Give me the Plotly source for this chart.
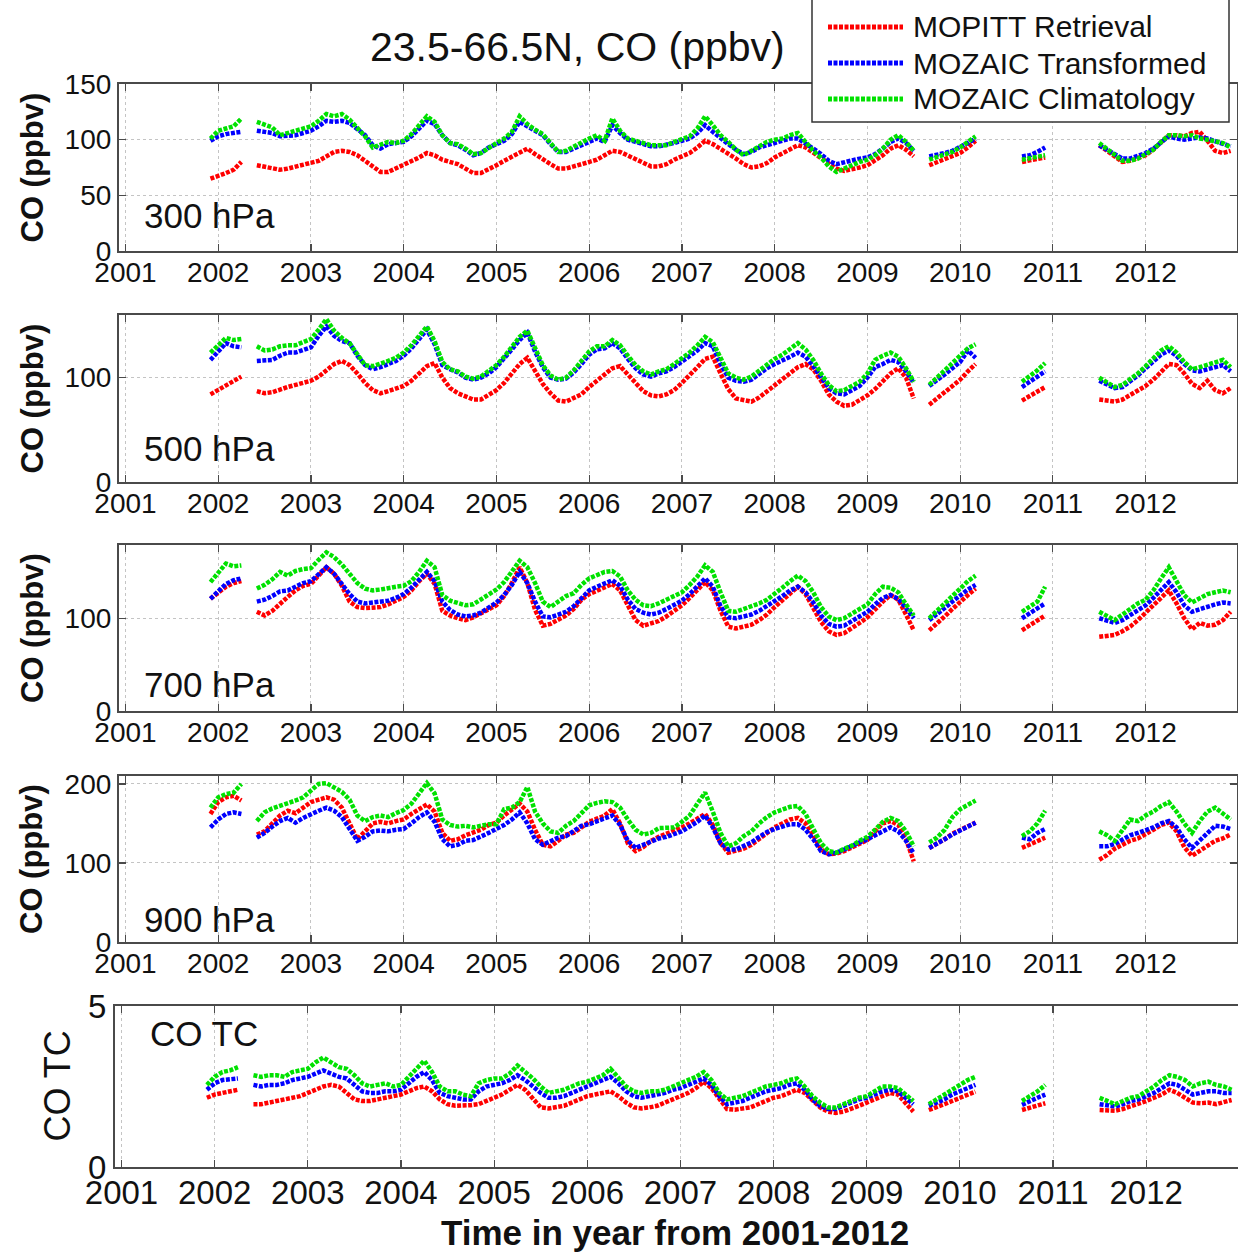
import plotly.graph_objects as go

# ---------------- time segments (monthly, with data gaps) ----------------
SEG_BOUNDS = [((2001, 12), (2002, 4)), ((2002, 6), (2009, 7)), ((2009, 9), (2010, 3)),
              ((2010, 9), (2010, 12)), ((2011, 7), (2012, 12))]

YEAR_TICKS = [2001, 2002, 2003, 2004, 2005, 2006, 2007, 2008, 2009, 2010, 2011, 2012]

SERIES_NAMES = ["MOPITT Retrieval", "MOZAIC Transformed", "MOZAIC Climatology"]
SERIES_COLORS = ["rgb(255,0,0)", "rgb(0,0,255)", "rgb(0,225,0)"]

# ---------------- 300 hPa ----------------
p300_red = [
    [65, 67, 70, 73, 80],
    [77, 76, 75, 73, 74, 76, 78,
     79, 81, 85, 89, 90, 89, 86, 81, 75, 71, 71, 74,
     78, 81, 84, 88, 86, 82, 80, 78, 74, 70, 70, 73,
     77, 81, 85, 89, 92, 87, 82, 78, 74, 74, 76, 78,
     80, 82, 86, 90, 89, 86, 83, 80, 76, 76, 78, 82,
     85, 88, 93, 99, 96, 92, 88, 83, 78, 75, 76, 79,
     84, 88, 92, 95, 93, 88, 84, 79, 74, 72, 73, 75,
     77, 81, 86, 92, 95, 91, 85],
    [77, 80, 82, 85, 88, 93, 99],
    [80, 81, 82, 84],
    [95, 90, 84, 80, 81, 83, 86, 91, 98, 104, 104, 103, 106, 107, 99, 90, 88, 90],
]
p300_blue = [
    [99, 103, 105, 106, 107],
    [108, 107, 106, 103, 103, 104, 106,
     108, 112, 117, 116, 117, 115, 110, 104, 95, 92, 96, 97,
     98, 103, 110, 117, 114, 104, 97, 95, 91, 86, 88, 93,
     96, 99, 105, 116, 112, 108, 104, 96, 89, 89, 92, 96,
     98, 101, 98, 113, 106, 100, 98, 96, 94, 94, 95, 97,
     99, 101, 106, 113, 107, 101, 96, 91, 87, 89, 93, 95,
     97, 99, 101, 101, 97, 92, 87, 81, 78, 80, 81, 83,
     84, 87, 92, 98, 101, 97, 90],
    [85, 86, 88, 90, 93, 97, 101],
    [85, 86, 89, 93],
    [95, 91, 86, 83, 83, 85, 88, 92, 98, 103, 101, 100, 101, 102, 101, 99, 96, 94],
]
p300_green = [
    [101, 108, 110, 112, 119],
    [116, 113, 111, 104, 106, 108, 109,
     112, 117, 123, 121, 123, 118, 110, 103, 93, 95, 98, 97,
     99, 105, 113, 121, 116, 104, 97, 96, 92, 87, 88, 93,
     97, 101, 107, 121, 114, 109, 105, 97, 89, 90, 94, 98,
     101, 104, 99, 119, 108, 101, 99, 97, 95, 95, 95, 98,
     100, 103, 110, 121, 113, 104, 98, 91, 86, 90, 95, 98,
     100, 101, 104, 106, 98, 90, 84, 76, 71, 74, 78, 80,
     82, 86, 92, 100, 104, 98, 90],
    [82, 84, 86, 89, 93, 98, 103],
    [82, 83, 84, 86],
    [97, 92, 86, 81, 81, 83, 87, 91, 98, 104, 104, 103, 104, 101, 100, 99, 97, 93],
]

# ---------------- 500 hPa ----------------
p500_red = [
    [84, 88, 93, 97, 101],
    [87, 85, 86, 89, 91, 93, 95,
     97, 101, 107, 113, 116, 112, 104, 95, 88, 85, 87, 89,
     92, 97, 104, 111, 114, 100, 90, 85, 82, 79, 79, 83,
     88, 95, 104, 113, 119, 106, 94, 85, 78, 77, 80, 84,
     91, 97, 103, 109, 111, 103, 95, 87, 83, 82, 84, 88,
     95, 102, 110, 118, 120, 104, 89, 80, 78, 77, 81, 87,
     93, 98, 104, 110, 113, 108, 97, 84, 77, 73, 74, 78,
     83, 89, 96, 104, 109, 100, 80],
    [74, 80, 86, 92, 98, 106, 113],
    [78, 82, 87, 91],
    [79, 78, 77, 79, 83, 87, 92, 98, 106, 113, 112, 104, 94, 90, 97, 88, 85, 90],
]
p500_blue = [
    [117, 125, 133, 130, 129],
    [116, 116, 117, 121, 124, 124, 126,
     129, 140, 149, 140, 135, 133, 121, 112, 108, 110, 113, 116,
     121, 128, 137, 146, 132, 112, 108, 105, 100, 98, 100, 104,
     110, 118, 127, 136, 143, 125, 110, 100, 98, 99, 105, 113,
     122, 127, 128, 133, 128, 118, 109, 103, 101, 104, 106, 110,
     115, 121, 126, 133, 130, 113, 100, 97, 96, 98, 104, 109,
     113, 116, 120, 124, 120, 111, 100, 90, 85, 84, 88, 92,
     100, 110, 113, 117, 115, 106, 95],
    [92, 97, 103, 109, 115, 126, 119],
    [91, 96, 101, 106],
    [97, 93, 90, 91, 96, 102, 109, 116, 122, 126, 121, 113, 107, 106, 108, 109, 112, 106],
]
p500_green = [
    [124, 131, 138, 136, 137],
    [130, 126, 127, 130, 131, 131, 134,
     137, 146, 156, 145, 138, 133, 122, 112, 111, 113, 116, 119,
     124, 131, 140, 149, 135, 115, 108, 106, 101, 99, 101, 106,
     112, 120, 129, 139, 145, 128, 112, 102, 98, 100, 107, 116,
     125, 130, 130, 136, 131, 121, 112, 106, 103, 106, 108, 113,
     118, 124, 131, 139, 134, 118, 104, 100, 98, 101, 107, 113,
     118, 122, 127, 133, 127, 117, 104, 93, 87, 88, 92, 96,
     104, 117, 121, 124, 120, 109, 96],
    [93, 100, 108, 115, 122, 128, 132],
    [96, 101, 107, 114],
    [100, 96, 91, 93, 98, 104, 111, 118, 126, 130, 124, 115, 108, 110, 112, 114, 117, 110],
]

# ---------------- 700 hPa ----------------
p700_red = [
    [121, 127, 134, 138, 140],
    [107, 103, 108, 116, 123, 130, 135,
     137, 146, 155, 148, 135, 118, 112, 111, 111, 112, 115, 119,
     123, 130, 140, 148, 137, 108, 103, 100, 98, 101, 105, 110,
     114, 124, 138, 155, 138, 109, 92, 94, 99, 103, 110, 120,
     126, 130, 134, 137, 130, 113, 98, 92, 94, 97, 102, 108,
     114, 122, 131, 139, 130, 108, 91, 89, 91, 93, 98, 104,
     112, 119, 127, 134, 126, 112, 96, 86, 82, 84, 89, 95,
     101, 110, 118, 125, 120, 104, 87],
    [87, 94, 102, 110, 118, 125, 132],
    [87, 92, 97, 103],
    [80, 81, 82, 86, 91, 98, 106, 114, 123, 130, 116, 100, 88, 95, 92, 93, 98, 107],
]
p700_blue = [
    [121, 129, 137, 141, 143],
    [118, 120, 124, 129, 130, 134, 138,
     140, 147, 155, 148, 137, 126, 118, 116, 117, 118, 119, 122,
     126, 133, 142, 150, 140, 118, 109, 104, 102, 103, 106, 112,
     117, 125, 136, 150, 138, 118, 102, 101, 104, 107, 113, 122,
     130, 134, 137, 141, 135, 120, 110, 106, 104, 106, 110, 114,
     119, 126, 134, 143, 134, 113, 101, 100, 102, 104, 108, 113,
     118, 124, 130, 134, 128, 117, 103, 94, 91, 92, 97, 102,
     107, 115, 122, 125, 121, 111, 100],
    [98, 104, 111, 118, 125, 131, 136],
    [100, 105, 110, 116],
    [100, 97, 95, 98, 103, 108, 114, 122, 131, 139, 128, 114, 107, 110, 113, 115, 117, 116],
]
p700_green = [
    [139, 150, 159, 156, 157],
    [132, 136, 142, 150, 146, 151, 153,
     154, 163, 171, 166, 158, 148, 138, 132, 130, 131, 133, 134,
     135, 140, 150, 162, 155, 125, 119, 116, 114, 115, 120, 126,
     131, 139, 150, 162, 155, 138, 118, 112, 118, 124, 127, 136,
     143, 147, 150, 151, 145, 130, 120, 114, 113, 116, 120, 124,
     128, 136, 145, 157, 150, 128, 108, 107, 110, 112, 116, 120,
     126, 133, 140, 146, 140, 128, 112, 102, 98, 100, 105, 110,
     115, 126, 134, 133, 128, 115, 103],
    [100, 108, 117, 125, 133, 140, 146],
    [107, 113, 118, 134],
    [107, 102, 98, 104, 110, 116, 120, 130, 143, 155, 140, 125, 117, 121, 126, 128, 130, 128],
]

# ---------------- 900 hPa ----------------
p900_red = [
    [162, 177, 183, 185, 179],
    [136, 140, 150, 160, 166, 163, 170,
     177, 180, 183, 180, 170, 150, 130, 140, 150, 152, 150, 153,
     155, 162, 168, 174, 165, 138, 128, 130, 135, 138, 142, 148,
     151, 160, 168, 175, 165, 142, 123, 121, 128, 136, 138, 145,
     152, 156, 160, 168, 150, 125, 115, 120, 128, 133, 137, 140,
     145, 150, 156, 162, 148, 125, 113, 115, 118, 123, 130, 137,
     145, 150, 155, 157, 150, 135, 117, 111, 112, 115, 120, 125,
     129, 140, 150, 153, 148, 130, 102],
    [119, 124, 130, 137, 142, 147, 151],
    [119, 123, 127, 132],
    [104, 110, 118, 123, 128, 131, 136, 142, 148, 151, 140, 120, 109, 115, 122, 128, 131, 136],
]
p900_blue = [
    [145, 155, 162, 164, 162],
    [132, 138, 146, 153, 157, 151, 157,
     162, 166, 170, 166, 158, 143, 128, 133, 140, 141, 140, 142,
     143, 150, 158, 164, 152, 130, 121, 123, 128, 129, 133, 138,
     143, 148, 155, 164, 150, 130, 123, 127, 132, 134, 140, 147,
     149, 153, 157, 160, 148, 128, 119, 123, 128, 131, 133, 136,
     140, 146, 152, 160, 145, 125, 117, 117, 121, 126, 133, 139,
     143, 146, 149, 149, 142, 130, 115, 111, 113, 117, 122, 126,
     130, 135, 141, 145, 140, 128, 112],
    [119, 124, 130, 136, 141, 146, 151],
    [132, 130, 138, 143],
    [121, 121, 124, 130, 135, 138, 141, 145, 150, 153, 145, 130, 119, 128, 138, 147, 146, 143],
]
p900_green = [
    [170, 183, 187, 189, 200],
    [153, 164, 169, 172, 176, 179, 183,
     192, 200, 201, 195, 190, 180, 160, 153, 158, 160, 158, 163,
     167, 175, 188, 201, 188, 155, 148, 146, 147, 145, 147, 149,
     149, 168, 170, 177, 196, 165, 150, 140, 138, 147, 153, 164,
     173, 176, 178, 177, 170, 155, 142, 136, 138, 144, 145, 145,
     152, 160, 175, 189, 165, 138, 121, 125, 134, 140, 150, 158,
     164, 167, 171, 172, 162, 143, 125, 115, 113, 118, 122, 128,
     133, 142, 152, 157, 153, 140, 121],
    [126, 132, 142, 158, 168, 174, 179],
    [134, 140, 150, 166],
    [140, 135, 128, 142, 155, 153, 160, 165, 172, 177, 165, 150, 138, 153, 165, 170, 163, 155],
]

# ---------------- CO total column ----------------
tc_red = [
    [2.15, 2.25, 2.3, 2.35, 2.4],
    [1.95, 1.95, 2.0, 2.05, 2.1, 2.15, 2.2,
     2.3, 2.4, 2.5, 2.55, 2.5, 2.3, 2.1, 2.05, 2.05, 2.1, 2.15, 2.2,
     2.25, 2.35, 2.45, 2.5, 2.35, 2.1, 1.95, 1.9, 1.9, 1.92, 1.95, 2.05,
     2.15, 2.25, 2.4, 2.55, 2.4, 2.1, 1.85, 1.82, 1.85, 1.9, 2.0, 2.1,
     2.2, 2.25, 2.3, 2.35, 2.2, 2.0, 1.85, 1.82, 1.85, 1.9, 2.0, 2.1,
     2.2, 2.3, 2.45, 2.65, 2.45, 2.1, 1.8, 1.78, 1.8, 1.85, 1.95, 2.05,
     2.15, 2.2, 2.3, 2.4, 2.3, 2.05, 1.85, 1.72, 1.68, 1.72, 1.8, 1.9,
     2.0, 2.1, 2.2, 2.3, 2.25, 2.0, 1.72],
    [1.77, 1.85, 1.95, 2.05, 2.15, 2.25, 2.34],
    [1.77, 1.83, 1.9, 1.98],
    [1.77, 1.75, 1.75, 1.8, 1.88, 1.95, 2.05, 2.15, 2.25, 2.4, 2.3, 2.15, 2.0, 1.98, 2.0, 1.95, 2.0, 2.08],
]
tc_blue = [
    [2.4, 2.6, 2.7, 2.72, 2.75],
    [2.55, 2.5, 2.55, 2.55, 2.6, 2.7, 2.75,
     2.8, 2.9, 3.0, 2.9, 2.8, 2.75, 2.55, 2.35, 2.3, 2.3, 2.35, 2.35,
     2.4, 2.6, 2.8, 2.95, 2.7, 2.3, 2.2, 2.15, 2.1, 2.1, 2.35, 2.5,
     2.55, 2.6, 2.7, 2.85, 2.7, 2.5, 2.3, 2.15, 2.15, 2.2, 2.3, 2.4,
     2.5, 2.6, 2.7, 2.8, 2.6, 2.35, 2.2, 2.15, 2.2, 2.25, 2.3, 2.4,
     2.45, 2.55, 2.65, 2.75, 2.55, 2.2, 1.95, 2.0, 2.05, 2.15, 2.25, 2.35,
     2.4, 2.45, 2.55, 2.6, 2.4, 2.1, 1.9, 1.8, 1.8, 1.9, 2.0, 2.1,
     2.15, 2.25, 2.35, 2.4, 2.35, 2.15, 1.95],
    [1.9, 2.0, 2.1, 2.25, 2.35, 2.45, 2.55],
    [1.93, 2.05, 2.15, 2.25],
    [1.95, 1.9, 1.88, 1.95, 2.05, 2.1, 2.2, 2.3, 2.45, 2.6, 2.55, 2.4, 2.25, 2.3, 2.35, 2.35, 2.3, 2.3],
]
tc_green = [
    [2.55, 2.8, 2.95, 3.0, 3.1],
    [2.85, 2.8, 2.85, 2.85, 2.8, 2.95, 3.0,
     3.05, 3.25, 3.4, 3.25, 3.1, 3.05, 2.85, 2.6, 2.5, 2.55, 2.6, 2.5,
     2.55, 2.8, 3.05, 3.3, 2.95, 2.5, 2.35, 2.35, 2.25, 2.2, 2.6, 2.7,
     2.75, 2.75, 2.9, 3.15, 2.95, 2.75, 2.5, 2.3, 2.35, 2.4, 2.5, 2.6,
     2.65, 2.75, 2.85, 3.05, 2.75, 2.5, 2.35, 2.3, 2.35, 2.35, 2.4, 2.5,
     2.6, 2.7, 2.8, 2.95, 2.7, 2.3, 2.1, 2.15, 2.2, 2.3, 2.4, 2.5,
     2.55, 2.6, 2.7, 2.75, 2.5, 2.2, 2.0, 1.85, 1.85, 1.95, 2.05, 2.15,
     2.2, 2.35, 2.5, 2.5, 2.45, 2.25, 2.05],
    [1.95, 2.1, 2.25, 2.4, 2.55, 2.7, 2.8],
    [2.05, 2.2, 2.35, 2.55],
    [2.15, 2.05, 1.95, 2.05, 2.15, 2.2, 2.35, 2.5, 2.7, 2.85, 2.8, 2.7, 2.5, 2.6, 2.65, 2.55, 2.5, 2.4],
]

PANEL_LABELS = ["300 hPa", "500 hPa", "700 hPa", "900 hPa", "CO TC"]
PANEL_SERIES = [
    (p300_red, p300_blue, p300_green),
    (p500_red, p500_blue, p500_green),
    (p700_red, p700_blue, p700_green),
    (p900_red, p900_blue, p900_green),
    (tc_red, tc_blue, tc_green),
]
Y_RANGES = [[0, 150], [0, 160], [0, 179], [0, 210], [0, 5]]
Y_TICKS = [[0, 50, 100, 150], [0, 100], [0, 100], [0, 100, 200], [0, 5]]
Y_TITLES = ["CO (ppbv)", "CO (ppbv)", "CO (ppbv)", "CO (ppbv)", "CO TC"]


# ---------------- helpers ----------------
def month_list(start, end):
    (y0, m0), (y1, m1) = start, end
    out = []
    y, m = y0, m0
    while (y, m) <= (y1, m1):
        out.append(y + (m - 1) / 12.0)
        m += 1
        if m > 12:
            m, y = 1, y + 1
    return out


SEG_X = [month_list(s, e) for s, e in SEG_BOUNDS]


def build_xy(segments):
    xs, ys = [], []
    for k, (sx, sv) in enumerate(zip(SEG_X, segments)):
        if k > 0:
            xs.append(None)
            ys.append(None)
        xs.extend(sx)
        ys.extend(sv)
    return xs, ys


W, H = 1238, 1252


def fx(px):
    return px / W


def fy(py):
    return 1 - py / H


# pixel boxes of each panel: (left, right, top, bottom)
BOXES = [(118.5, 1236.5, 84, 251), (118.5, 1236.5, 315, 482), (118.5, 1236.5, 545, 711),
         (118.5, 1236.5, 776, 942), (114.5, 1237.5, 1006, 1167)]

FONT = "Liberation Sans, Arial, sans-serif"
AXCOL = "#4a4a4a"
DOT = "4px,1.5px"

fig = go.Figure()
layout = dict(
    width=W, height=H, margin=dict(l=0, r=0, t=0, b=0, autoexpand=False),
    paper_bgcolor="white", plot_bgcolor="white", showlegend=False,
    font=dict(family=FONT, color="#111111"),
)

annotations = []
shapes = []

for i, (series, box) in enumerate(zip(PANEL_SERIES, BOXES)):
    n = i + 1
    xa = "xaxis" if n == 1 else f"xaxis{n}"
    ya = "yaxis" if n == 1 else f"yaxis{n}"
    xr = "x" if n == 1 else f"x{n}"
    yr = "y" if n == 1 else f"y{n}"
    l, r, t, b = box
    big = (n == 5)
    layout[xa] = dict(
        domain=[fx(l), fx(r)], anchor=yr, range=[2000.925, 2012.98], automargin=False,
        tickmode="array", tickvals=YEAR_TICKS, ticktext=[str(v) for v in YEAR_TICKS],
        ticks="inside", ticklen=7, tickwidth=1.2, tickcolor=AXCOL,
        showline=True, linecolor=AXCOL, linewidth=1.6, mirror="allticks",
        showgrid=True, gridcolor="#c4c4c4", griddash="dot", gridwidth=1,
        zeroline=False, tickfont=dict(size=33 if big else 28, family=FONT, color="#111111"),
        ticklabelstandoff=-4,
    )
    layout[ya] = dict(
        domain=[fy(b), fy(t)], anchor=xr, range=Y_RANGES[i], automargin=False,
        tickmode="array", tickvals=Y_TICKS[i],
        ticks="inside", ticklen=7, tickwidth=1.2, tickcolor=AXCOL,
        showline=True, linecolor=AXCOL, linewidth=1.6, mirror="allticks",
        showgrid=True, gridcolor="#c4c4c4", griddash="dot", gridwidth=1,
        zeroline=False, tickfont=dict(size=33 if big else 28, family=FONT, color="#111111"),
    )
    for name, color, seg in zip(SERIES_NAMES, SERIES_COLORS, series):
        xs, ys = build_xy(seg)
        fig.add_trace(go.Scatter(
            x=xs, y=ys, mode="lines", name=name, xaxis=xr, yaxis=yr,
            line=dict(color=color, width=4.5, dash=DOT), connectgaps=False,
            showlegend=False,
        ))
    # panel label
    lab_x = 142 if n < 5 else 148
    lab_y = {1: 215, 2: 448, 3: 684, 4: 919, 5: 1033}[n]
    annotations.append(dict(
        text=PANEL_LABELS[i], x=fx(lab_x), y=fy(lab_y), xref="paper", yref="paper",
        xanchor="left", yanchor="middle", showarrow=False,
        font=dict(size=35, family=FONT, color="#111111"),
    ))
    # y title
    annotations.append(dict(
        text=("<b>%s</b>" % Y_TITLES[i]) if n < 5 else Y_TITLES[i],
        x=fx(32 if n < 5 else 57), y=fy((t + b) / 2), xref="paper", yref="paper",
        xanchor="center", yanchor="middle", showarrow=False, textangle=-90,
        font=dict(size=31 if n < 5 else 36, family=FONT, color="#111111"),
    ))

# main title
annotations.append(dict(
    text="23.5-66.5N, CO (ppbv)", x=fx(577), y=fy(47), xref="paper", yref="paper",
    xanchor="center", yanchor="middle", showarrow=False,
    font=dict(size=41, family=FONT, color="#111111"),
))
# x title
annotations.append(dict(
    text="<b>Time in year from 2001-2012</b>", x=fx(675), y=fy(1232), xref="paper", yref="paper",
    xanchor="center", yanchor="middle", showarrow=False,
    font=dict(size=35, family=FONT, color="#111111"),
))

# legend box (drawn over the top panel)
shapes.append(dict(type="rect", xref="paper", yref="paper", x0=fx(812), x1=fx(1229),
                   y0=fy(122), y1=fy(-4), fillcolor="white",
                   line=dict(color="#333333", width=1.5), layer="above"))
for k, (name, color) in enumerate(zip(SERIES_NAMES, SERIES_COLORS)):
    yy = [27, 63, 99][k]
    shapes.append(dict(type="line", xref="paper", yref="paper", x0=fx(828), x1=fx(903),
                       y0=fy(yy), y1=fy(yy), line=dict(color=color, width=5, dash=DOT),
                       layer="above"))
    annotations.append(dict(
        text=name, x=fx(911), y=fy(yy), xref="paper", yref="paper",
        xanchor="left", yanchor="middle", showarrow=False,
        font=dict(size=30, family=FONT, color="#111111"),
    ))

layout["annotations"] = annotations
layout["shapes"] = shapes
fig.update_layout(**layout)
fig.write_html(
    "out.html",
    config={"displayModeBar": False, "staticPlot": True},
    post_script="document.body.style.margin='0px';document.body.style.overflow='hidden';",
)
